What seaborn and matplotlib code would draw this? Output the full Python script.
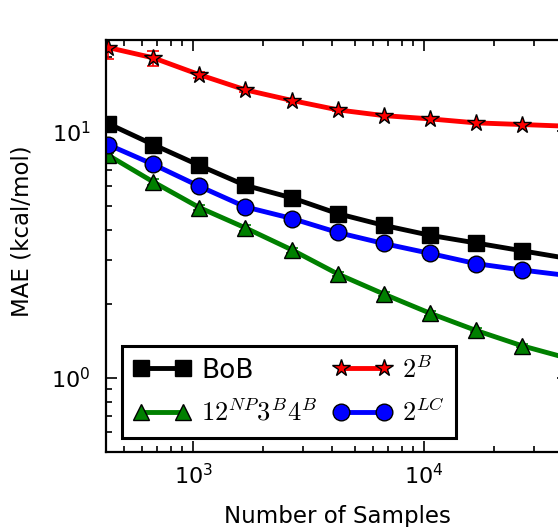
import matplotlib
matplotlib.use('Agg')
import matplotlib.pyplot as plt
import numpy as np
import pandas as pd
import seaborn as sns

# Data
samples = [430, 673, 1065, 1686, 2690, 4230, 6680, 10600, 16700, 26500, 42000]

mae_bob = [10.75, 8.84, 7.28, 6.04, 5.37, 4.64, 4.16, 3.79, 3.53, 3.28, 3.05]
err_bob = [0.15, 0.12, 0.10, 0.08, 0.06, 0.05, 0.04, 0.03, 0.03, 0.02, 0.02]

mae_np = [8.0, 6.24, 4.91, 4.06, 3.30, 2.64, 2.19, 1.83, 1.56, 1.35, 1.20]
err_np = [0.20, 0.15, 0.12, 0.10, 0.08, 0.06, 0.05, 0.04, 0.03, 0.02, 0.02]

mae_2b = [21.9, 19.9, 17.0, 14.75, 13.35, 12.24, 11.6, 11.25, 10.84, 10.67, 10.5]
err_2b = [2.2, 1.4, 0.5, 0.3, 0.15, 0.1, 0.08, 0.06, 0.05, 0.04, 0.03]

mae_lc = [8.83, 7.35, 5.99, 4.94, 4.43, 3.89, 3.51, 3.20, 2.91, 2.74, 2.60]
err_lc = [0.20, 0.25, 0.10, 0.08, 0.06, 0.05, 0.04, 0.03, 0.03, 0.02, 0.02]

labels = ['BoB', r'$12^{NP}3^{B}4^{B}$', r'$2^{B}$', r'$2^{LC}$']
colors = ['#000000', '#008000', '#ff0000', '#0000ff']
markers = ['s', '^', '*', 'o']

sns.set_style('ticks')
plt.rcParams['font.family'] = ['DejaVu Sans']
plt.rcParams['mathtext.fontset'] = 'cm'
for key in ['text.color', 'axes.labelcolor', 'xtick.color', 'ytick.color']:
    plt.rcParams[key] = 'black'

fig = plt.figure(figsize=(5.58, 5.27), dpi=100)
ax = fig.add_axes([0.19, 0.1423, 0.828, 0.7817])

series = [(mae_bob, err_bob), (mae_np, err_np), (mae_2b, err_2b), (mae_lc, err_lc)]
for (vals, errs), lab, col, mk in zip(series, labels, colors, markers):
    df = pd.DataFrame({'samples': samples, 'mae': vals})
    ax.errorbar(samples, vals, yerr=errs, fmt='none', ecolor=col,
                elinewidth=1.2, capsize=4, capthick=1.2)
    sns.lineplot(data=df, x='samples', y='mae', ax=ax, color=col,
                 marker=mk, markersize=13 if mk == '*' else 12,
                 markeredgecolor='k', markeredgewidth=1.0,
                 linewidth=3.5, label=lab)

ax.set_xscale('log')
ax.set_yscale('log')
ax.set_xlim(420, 42000)
ax.set_ylim(0.5, 23.5)

ax.set_xlabel('Number of Samples', fontsize=16.5)
ax.set_ylabel('MAE (kcal/mol)', fontsize=16.5)
ax.xaxis.set_label_coords(0.5, -0.128)
ax.yaxis.set_label_coords(-0.158, 0.536)

ax.minorticks_on()
ax.tick_params(which='both', direction='in', bottom=True, left=True,
               top=True, right=True, labelsize=16, color='black', width=1.2)
ax.tick_params(which='major', length=8)
ax.tick_params(which='minor', length=4)
ax.tick_params(axis='x', pad=8)
ax.tick_params(axis='y', pad=11)
for sp in ax.spines.values():
    sp.set_visible(True)
    sp.set_linewidth(1.6)
    sp.set_color('black')

handles, labs = ax.get_legend_handles_labels()
leg = ax.legend(handles, labs, ncol=2, numpoints=2, loc='lower left',
                bbox_to_anchor=(0.035, 0.034), borderaxespad=0,
                fontsize=19, fancybox=False, framealpha=1,
                edgecolor='black', columnspacing=0.6, labelspacing=0.6,
                handlelength=2.2, handletextpad=0.4)
leg.get_frame().set_linewidth(2.2)

fig.savefig('out.png', dpi=100)
